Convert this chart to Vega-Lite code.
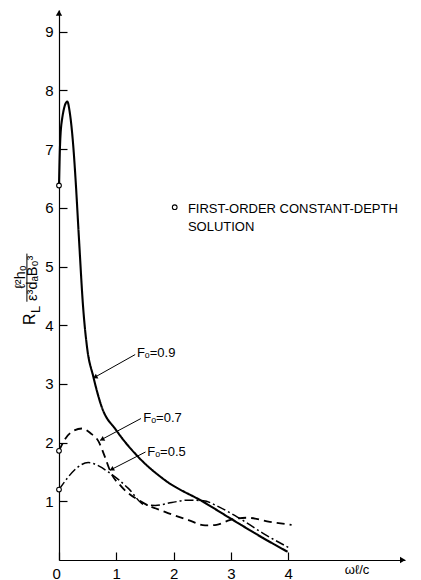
{
  "$schema": "https://vega.github.io/schema/vega-lite/v6.json",
  "width": 346,
  "height": 550,
  "autosize": {"type": "none"},
  "padding": {"left": 59, "top": 10, "right": 16, "bottom": 20},
  "background": "white",
  "config": {
    "view": {"stroke": null},
    "font": "Liberation Sans",
    "axis": {"domainColor": "black", "tickColor": "black", "labelColor": "black", "grid": false, "domainWidth": 1.2, "tickWidth": 1.2}
  },
  "datasets": {
    "curves": [
      {"s": "0.9", "x": 0, "y": 6.38}, {"s": "0.9", "x": 0.017, "y": 7.04}, {"s": "0.9", "x": 0.052, "y": 7.5}, {"s": "0.9", "x": 0.145, "y": 7.81}, {"s": "0.9", "x": 0.19, "y": 7.61}, {"s": "0.9", "x": 0.25, "y": 7.04}, {"s": "0.9", "x": 0.29, "y": 6.47}, {"s": "0.9", "x": 0.35, "y": 5.45}, {"s": "0.9", "x": 0.42, "y": 4.32}, {"s": "0.9", "x": 0.49, "y": 3.62}, {"s": "0.9", "x": 0.6, "y": 3.12}, {"s": "0.9", "x": 0.745, "y": 2.61}, {"s": "0.9", "x": 1.0, "y": 2.21}, {"s": "0.9", "x": 1.38, "y": 1.76}, {"s": "0.9", "x": 1.85, "y": 1.36}, {"s": "0.9", "x": 2.52, "y": 0.99}, {"s": "0.9", "x": 3.04, "y": 0.68}, {"s": "0.9", "x": 3.57, "y": 0.37}, {"s": "0.9", "x": 3.99, "y": 0.14},
      {"s": "0.7", "x": 0, "y": 1.86}, {"s": "0.7", "x": 0.12, "y": 2.08}, {"s": "0.7", "x": 0.25, "y": 2.2}, {"s": "0.7", "x": 0.4, "y": 2.24}, {"s": "0.7", "x": 0.55, "y": 2.16}, {"s": "0.7", "x": 0.69, "y": 2.02}, {"s": "0.7", "x": 0.8, "y": 1.76}, {"s": "0.7", "x": 0.9, "y": 1.5}, {"s": "0.7", "x": 1.09, "y": 1.25}, {"s": "0.7", "x": 1.44, "y": 0.99}, {"s": "0.7", "x": 1.85, "y": 0.82}, {"s": "0.7", "x": 2.26, "y": 0.68}, {"s": "0.7", "x": 2.55, "y": 0.59}, {"s": "0.7", "x": 2.75, "y": 0.6}, {"s": "0.7", "x": 2.98, "y": 0.68}, {"s": "0.7", "x": 3.28, "y": 0.72}, {"s": "0.7", "x": 3.68, "y": 0.65}, {"s": "0.7", "x": 4.06, "y": 0.6},
      {"s": "0.5", "x": 0, "y": 1.2}, {"s": "0.5", "x": 0.15, "y": 1.4}, {"s": "0.5", "x": 0.3, "y": 1.56}, {"s": "0.5", "x": 0.51, "y": 1.66}, {"s": "0.5", "x": 0.7, "y": 1.6}, {"s": "0.5", "x": 0.86, "y": 1.5}, {"s": "0.5", "x": 1.05, "y": 1.36}, {"s": "0.5", "x": 1.21, "y": 1.22}, {"s": "0.5", "x": 1.5, "y": 0.94}, {"s": "0.5", "x": 1.68, "y": 0.93}, {"s": "0.5", "x": 1.97, "y": 0.98}, {"s": "0.5", "x": 2.26, "y": 1.02}, {"s": "0.5", "x": 2.52, "y": 1.01}, {"s": "0.5", "x": 2.8, "y": 0.9}, {"s": "0.5", "x": 3.1, "y": 0.74}, {"s": "0.5", "x": 3.57, "y": 0.45}, {"s": "0.5", "x": 4.03, "y": 0.2}
    ],
    "circles": [{"x": 0, "y": 6.38}, {"x": 0, "y": 1.86}, {"x": 0, "y": 1.2}, {"x": 2.02, "y": 6.01}],
    "leaders": [
      {"x": 1.33, "y": 3.5, "x2": 0.6, "y2": 3.1},
      {"x": 1.43, "y": 2.41, "x2": 0.72, "y2": 2.04},
      {"x": 1.51, "y": 1.84, "x2": 0.89, "y2": 1.53}
    ],
    "tips": [{"x": 0.63, "y": 3.115}, {"x": 0.75, "y": 2.055}, {"x": 0.92, "y": 1.545}],
    "labels": [
      {"x": 1.36, "y": 3.53, "t": "Fₒ=0.9"},
      {"x": 1.47, "y": 2.42, "t": "Fₒ=0.7"},
      {"x": 1.54, "y": 1.84, "t": "Fₒ=0.5"},
      {"x": 2.25, "y": 5.98, "t": "FIRST-ORDER CONSTANT-DEPTH"},
      {"x": 2.25, "y": 5.67, "t": "SOLUTION"},
      {"x": 4.99, "y": -0.17, "t": "ωℓ/c"}
    ],
    "ytitle": [
      {"x": -0.5, "y": 4.1, "t": "R", "size": "big"},
      {"x": -0.4, "y": 4.27, "t": "L", "size": "small"},
      {"x": -0.66, "y": 4.82, "t": "ℓ²h₀", "size": "mid"},
      {"x": -0.45, "y": 4.8, "t": "ε³dₐB₀³", "size": "mid"}
    ],
    "ybar": [{"x": -0.56, "y": 4.4, "y2": 5.22}],
    "xarrow": [{"x": 6.0, "y": 0}],
    "yarrow": [{"x": 0, "y": 9.32}]
  },
  "encoding": {
    "x": {"field": "x", "type": "quantitative", "scale": {"domain": [0, 6.04], "nice": false},
      "axis": {"values": [0, 1, 2, 3, 4], "title": null, "tickSize": -8, "labelPadding": 14, "labelFontSize": 15, "labelAngle": 0,
        "labelOffset": {"condition": {"test": "datum.value === 0", "value": -7}, "value": 0}}},
    "y": {"field": "y", "type": "quantitative", "scale": {"domain": [0, 9.37], "nice": false},
      "axis": {"values": [1, 2, 3, 4, 5, 6, 7, 8, 9], "title": null, "tickSize": -8, "labelPadding": 14, "labelFontSize": 15}}
  },
  "layer": [
    {
      "data": {"name": "curves"},
      "mark": {"type": "line", "interpolate": "monotone", "color": "black"},
      "encoding": {
        "detail": {"field": "s"},
        "strokeDash": {"field": "s", "type": "nominal", "scale": {"domain": ["0.9", "0.7", "0.5"], "range": [[1, 0], [8, 5], [9, 3, 2, 3]]}, "legend": null},
        "strokeWidth": {"field": "s", "type": "nominal", "scale": {"domain": ["0.9", "0.7", "0.5"], "range": [2.1, 1.5, 1.5]}, "legend": null}
      }
    },
    {
      "data": {"name": "circles"},
      "mark": {"type": "point", "shape": "circle", "size": 22, "filled": false, "fill": "white", "stroke": "black", "strokeWidth": 1.1, "opacity": 1},
      "encoding": {}
    },
    {
      "data": {"name": "leaders"},
      "mark": {"type": "rule", "color": "black", "strokeWidth": 1},
      "encoding": {
        "x2": {"field": "x2"},
        "y2": {"field": "y2"}
      }
    },
    {
      "data": {"name": "tips"},
      "mark": {"type": "point", "shape": "triangle-up", "size": 28, "filled": true, "color": "black", "angle": 242, "opacity": 1},
      "encoding": {}
    },
    {
      "data": {"name": "labels"},
      "mark": {"type": "text", "align": "left", "baseline": "middle", "fontSize": 13, "color": "black", "font": "Liberation Sans"},
      "encoding": {
        "text": {"field": "t"}
      }
    },
    {
      "data": {"name": "ytitle"},
      "mark": {"type": "text", "align": "center", "baseline": "middle", "angle": 270, "color": "black", "font": "Liberation Sans"},
      "encoding": {
        "text": {"field": "t"},
        "size": {"field": "size", "type": "nominal", "scale": {"domain": ["big", "mid", "small"], "range": [16, 13, 10]}, "legend": null}
      }
    },
    {
      "data": {"name": "ybar"},
      "mark": {"type": "rule", "color": "black", "strokeWidth": 1},
      "encoding": {
        "y2": {"field": "y2"}
      }
    },
    {
      "data": {"name": "xarrow"},
      "mark": {"type": "point", "shape": "triangle-right", "size": 40, "filled": true, "color": "black", "opacity": 1},
      "encoding": {}
    },
    {
      "data": {"name": "yarrow"},
      "mark": {"type": "point", "shape": "triangle-up", "size": 40, "filled": true, "color": "black", "opacity": 1},
      "encoding": {}
    }
  ]
}
